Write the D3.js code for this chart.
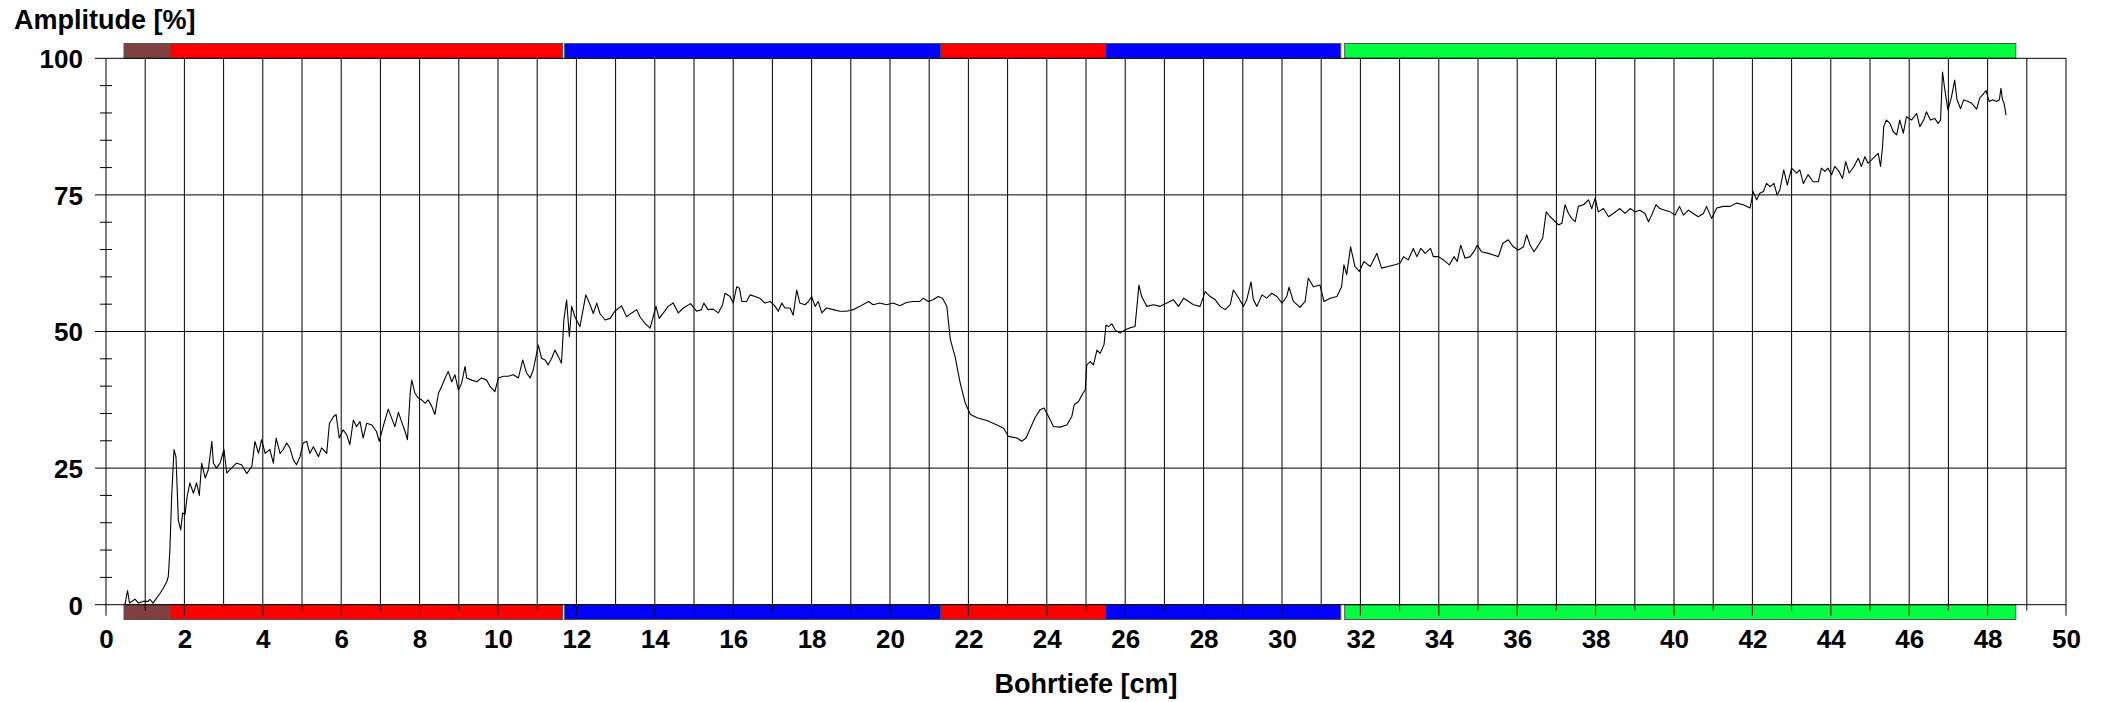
<!DOCTYPE html>
<html>
<head>
<meta charset="utf-8">
<script src="https://cdn.jsdelivr.net/npm/d3@7"></script>
<style>
  html, body { margin: 0; padding: 0; background: #fff; }
  svg { display: block; }
  text { font-family: "Liberation Sans", Arial, Helvetica, sans-serif; font-weight: bold; fill: #000; }
</style>
</head>
<body>
<div id="chart"></div>
<script>
// depth [cm], amplitude [%]
const trace = [
  [0.47,0],[0.49,0.3],[0.55,2.6],[0.6,0.3],[0.66,0.6],[0.74,1.0],[0.83,0.3],[0.95,0.6],[1.08,0.6],[1.12,1.0],
  [1.2,0.3],[1.29,1.2],[1.38,2.1],[1.46,3.0],[1.55,4.2],[1.59,5.2],[1.63,10],[1.675,19.8],[1.735,28.4],[1.786,27],
  [1.845,15.5],[1.905,13.7],[1.956,16.8],[2.015,16.5],[2.07,19.8],[2.14,22.3],[2.23,20.4],[2.31,22.3],[2.38,20],[2.44,25.9],
  [2.53,23.2],[2.61,24.7],[2.7,29.9],[2.74,25.9],[2.82,25],[2.91,25.9],[3.01,28.4],[3.08,24.1],[3.2,25],[3.33,25.9],
  [3.46,25.6],[3.59,24],[3.72,25.3],[3.8,29.9],[3.89,27.7],[3.97,30.2],[4.06,27.7],[4.18,28.4],[4.27,25.9],[4.34,30.5],
  [4.44,27.7],[4.52,28.4],[4.61,29.6],[4.69,28.7],[4.78,26.5],[4.86,25.6],[4.95,27.1],[5.03,29.6],[5.12,29.9],[5.2,27.7],
  [5.29,28.9],[5.42,27.1],[5.5,28.7],[5.63,27.7],[5.7,33.2],[5.8,34.4],[5.87,34.8],[5.95,30.5],[6.05,32],[6.14,31.1],
  [6.22,29.3],[6.31,33.8],[6.39,32.6],[6.48,33.5],[6.56,30.5],[6.65,33.2],[6.78,32.9],[6.9,31.7],[6.97,29.9],[7.07,32.6],
  [7.2,35.8],[7.29,34.1],[7.37,32.6],[7.46,35.2],[7.54,33.5],[7.63,31.7],[7.69,30.2],[7.76,38.7],[7.8,41.1],[7.88,38.7],
  [7.97,37.8],[8.05,37.5],[8.14,36.9],[8.22,37.5],[8.31,36.3],[8.39,34.8],[8.48,38.7],[8.56,39.9],[8.65,41.5],[8.73,42.7],
  [8.82,40.8],[8.9,42.1],[8.99,39.3],[9.07,40.5],[9.16,43.6],[9.2,41.5],[9.33,41.1],[9.46,40.8],[9.58,41.5],[9.71,41.1],
  [9.8,39.9],[9.92,39],[10.01,41.5],[10.14,41.8],[10.26,41.8],[10.39,42.1],[10.52,41.5],[10.63,44.8],[10.73,42.4],[10.82,41.5],
  [10.9,43],[11.03,47.5],[11.11,45.1],[11.2,44.8],[11.28,43.9],[11.37,45.1],[11.45,46.6],[11.54,45.4],[11.62,44.2],[11.68,52.1],
  [11.75,55.8],[11.82,49.1],[11.88,54.6],[11.96,52.7],[12.09,50.9],[12.24,56.7],[12.35,54.9],[12.43,53.3],[12.52,55.2],[12.6,53.3],
  [12.73,52.1],[12.86,52.4],[12.98,53.7],[13.15,54.7],[13.28,52.7],[13.41,53.4],[13.54,54],[13.62,52.7],[13.75,51.5],[13.88,50.6],
  [13.96,52.7],[14.03,54.6],[14.11,52.4],[14.22,53.4],[14.34,54.6],[14.47,55.2],[14.6,53.4],[14.73,54.3],[14.91,55.1],[15.07,53.7],
  [15.19,54],[15.25,55.2],[15.36,54],[15.49,54.1],[15.62,53.4],[15.73,54.9],[15.79,57],[15.92,56.4],[16,55.2],[16.09,58.2],
  [16.16,57.9],[16.22,55.5],[16.34,55.5],[16.43,56.7],[16.56,56.4],[16.68,56.1],[16.81,55.2],[16.94,55.5],[17.07,54.6],[17.15,53.7],
  [17.24,55.2],[17.32,54.3],[17.45,54.3],[17.53,53],[17.62,57.6],[17.7,55.2],[17.83,54.9],[17.92,55.5],[18,56.4],[18.09,54.6],
  [18.17,55.5],[18.26,53.4],[18.38,54.3],[18.55,54],[18.72,53.7],[18.89,53.7],[19.06,54],[19.23,54.6],[19.45,55.5],[19.57,54.9],
  [19.74,55.2],[19.91,54.9],[20.08,55.2],[20.25,54.7],[20.42,55.3],[20.59,55.5],[20.76,55.5],[20.85,56.1],[20.98,55.5],[21.1,55.8],
  [21.23,56.4],[21.34,56.1],[21.45,54.6],[21.54,48.5],[21.66,45.4],[21.79,40.6],[21.92,36.9],[22.05,34.8],[22.22,34.2],[22.47,33.7],
  [22.73,32.9],[22.9,32.3],[23.02,30.8],[23.24,30.5],[23.36,29.9],[23.47,30.5],[23.58,32.3],[23.7,34.2],[23.83,35.7],[23.93,36],
  [24.04,34.5],[24.17,32.6],[24.34,32.5],[24.51,32.9],[24.64,34.5],[24.7,36.6],[24.81,37.2],[24.92,38.7],[24.98,39.3],[25.02,43.9],
  [25.11,44.5],[25.19,43.9],[25.28,46.6],[25.36,46],[25.46,47.6],[25.51,51.2],[25.57,50.9],[25.66,51.4],[25.74,50.3],[25.87,49.7],
  [26,50.3],[26.13,50.7],[26.25,50.9],[26.3,54.6],[26.35,58.5],[26.42,56.4],[26.55,54.6],[26.72,54.9],[26.89,54.6],[27.06,55.2],
  [27.23,55.8],[27.36,54.6],[27.49,56.1],[27.62,55.5],[27.74,54.9],[27.91,54.6],[28.04,57.3],[28.17,56.4],[28.3,55.8],[28.42,54.6],
  [28.55,54],[28.68,54.9],[28.76,57.6],[28.87,56.4],[29.02,54.6],[29.1,55.8],[29.21,59.1],[29.27,55.8],[29.36,54.6],[29.49,56.7],
  [29.61,56.1],[29.74,57],[29.87,56.4],[30,55.2],[30.12,56.4],[30.18,58.1],[30.29,55.5],[30.46,54.4],[30.59,55.5],[30.67,59.8],
  [30.8,58.2],[30.97,58.5],[31.07,55.5],[31.23,56.1],[31.4,56.4],[31.52,58.2],[31.58,62.2],[31.65,60.4],[31.75,65.5],[31.86,61.9],
  [31.97,61],[32.09,62.8],[32.25,61.9],[32.42,64.3],[32.54,61.6],[32.71,61.9],[32.88,62.2],[33.01,62.5],[33.1,63.7],[33.22,63.1],
  [33.35,65.2],[33.44,63.7],[33.54,65.2],[33.65,64.3],[33.79,65.2],[33.86,63.7],[33.99,63.7],[34.12,63.1],[34.27,62.2],[34.39,63.7],
  [34.47,62.8],[34.56,65.8],[34.67,63.4],[34.8,63.7],[34.92,64.9],[34.98,65.8],[35.09,64.6],[35.26,64.3],[35.39,64],[35.52,63.7],
  [35.63,66.1],[35.77,66.8],[35.9,65.5],[36.03,64.9],[36.16,65.5],[36.24,67.7],[36.33,65.8],[36.43,64.6],[36.54,65.8],[36.65,67.1],
  [36.74,71.9],[36.84,71],[36.97,70.1],[37.05,69.5],[37.14,69.8],[37.22,73.2],[37.31,71.6],[37.39,70.7],[37.48,70.1],[37.56,72.9],
  [37.69,73.2],[37.82,74.1],[37.9,72.5],[37.99,74.4],[38.07,71.9],[38.2,72.5],[38.33,71],[38.45,71.6],[38.62,72.5],[38.75,71.6],
  [38.88,72.5],[39.01,71.9],[39.13,72.2],[39.26,71.6],[39.35,70.1],[39.43,71.3],[39.54,73.2],[39.64,72.5],[39.77,72.2],[39.9,71.9],
  [40.03,71.3],[40.14,72.9],[40.24,71.3],[40.37,72.2],[40.49,71.6],[40.62,71],[40.75,71.6],[40.83,72.9],[40.96,70.7],[41.09,72.6],
  [41.26,72.9],[41.43,72.9],[41.6,73.5],[41.77,73.2],[41.94,72.6],[42.02,75.6],[42.11,74.1],[42.19,75.3],[42.28,75.6],[42.36,77.1],
  [42.45,76.5],[42.55,77.1],[42.63,75],[42.7,75.9],[42.8,79.6],[42.89,76.8],[43,79.9],[43.13,79],[43.21,79.6],[43.3,77.1],
  [43.42,78.7],[43.55,77.4],[43.68,77.4],[43.76,79.9],[43.85,79.3],[43.93,79.9],[44.02,78.7],[44.1,80.2],[44.21,79.3],[44.3,78],
  [44.38,81.1],[44.47,79],[44.59,80.2],[44.7,81.7],[44.78,80.2],[44.87,82],[44.95,80.8],[45.04,81.4],[45.12,82],[45.21,82.6],
  [45.27,80.2],[45.32,83.8],[45.35,87.5],[45.42,88.7],[45.51,88.1],[45.59,86.6],[45.68,86],[45.76,88.7],[45.85,86.3],[45.93,89.3],
  [46.06,88.7],[46.19,89.9],[46.27,87.5],[46.37,88.7],[46.44,90.2],[46.54,88.7],[46.65,89],[46.74,88.1],[46.8,88.7],[46.85,97.5],
  [46.91,94.2],[46.99,90.5],[47.08,93],[47.16,96],[47.22,92.4],[47.31,90.8],[47.39,92.4],[47.5,92.1],[47.59,91.8],[47.72,90.7],
  [47.8,92.7],[47.87,93.3],[47.96,94.1],[48.04,92.1],[48.13,92.4],[48.23,92.1],[48.3,92.4],[48.34,94.5],[48.38,92.4],[48.42,91.8],
  [48.47,89.6]
]

// layer bands along the depth axis [cm]
const layerStart = [0.46, 1.63, 11.7, 21.3, 25.5, 31.6]
const layerEnd   = [1.63, 11.65, 21.3, 25.5, 31.5, 48.72]
const layerColor = ["#804040", "#ff0000", "#0000ff", "#ff0000", "#0000ff", "#00ff40"]

const xTicks = d3.range(0, 51, 2)
const yTicks = [0, 25, 50, 75, 100]
const yMinor = d3.range(5, 100, 5).filter(v => v % 25 != 0)

const W = 2104, H = 702
const margin = {left: 106, right: 38, top: 58.3, bottom: 97.3}

const x = d3.scaleLinear().domain([0, 50]).range([margin.left, W - margin.right])
const y = d3.scaleLinear().domain([0, 100]).range([H - margin.bottom, margin.top])

const svg = d3.select("#chart").append("svg")
  .attr("width", W)
  .attr("height", H)

// layer bars, top and bottom
const barH = 14.8
const layers = layerStart.map((s, i) => ({s, e: layerEnd[i], c: layerColor[i]}))
for (const yPos of [y(100) - barH, y(0)]) {
  svg.append("g").selectAll("rect")
    .data(layers)
    .join("rect")
      .attr("x", d => x(d.s))
      .attr("y", yPos)
      .attr("width", d => x(d.e) - x(d.s))
      .attr("height", barH)
      .attr("fill", d => d.c)
      .attr("stroke", "#505050")
      .attr("stroke-width", 1)
}

// grid
const grid = svg.append("g").attr("stroke", "#000").attr("stroke-width", 1)

grid.selectAll(".hline")
  .data(yTicks)
  .join("line")
    .attr("class", "hline")
    .attr("x1", x(0) - 11)
    .attr("x2", x(50))
    .attr("y1", d => y(d))
    .attr("y2", d => y(d))

grid.selectAll(".vline")
  .data(d3.range(0, 51))
  .join("line")
    .attr("class", "vline")
    .attr("x1", d => x(d))
    .attr("x2", d => x(d))
    .attr("y1", y(100))
    .attr("y2", d => y(0) + (d % 2 == 0 ? 11 : 6))

grid.selectAll(".minor")
  .data(yMinor)
  .join("line")
    .attr("class", "minor")
    .attr("x1", x(0) - 6)
    .attr("x2", x(0) + 6)
    .attr("y1", d => y(d))
    .attr("y2", d => y(d))

// trace
svg.append("path")
  .datum(trace)
  .attr("fill", "none")
  .attr("stroke", "#000")
  .attr("stroke-width", 1.1)
  .attr("stroke-linejoin", "round")
  .attr("d", d3.line().x(d => x(d[0])).y(d => y(d[1])))

// axes (labels only)
const xAxis = svg.append("g")
  .attr("transform", `translate(0,${y(0)})`)
  .call(d3.axisBottom(x).tickValues(xTicks).tickSize(0).tickPadding(25))
xAxis.select(".domain").remove()
xAxis.selectAll("text")
  .attr("font-size", 26)
  .attr("font-family", null)

const yAxis = svg.append("g")
  .attr("transform", `translate(${x(0)},0)`)
  .call(d3.axisLeft(y).tickValues(yTicks).tickSize(0).tickPadding(23))
yAxis.select(".domain").remove()
yAxis.selectAll("text")
  .attr("font-size", 26)
  .attr("font-family", null)
  .attr("dy", "0.36em")

svg.append("text")
  .attr("x", 14)
  .attr("y", 29)
  .attr("font-size", 27)
  .text("Amplitude [%]")

svg.append("text")
  .attr("x", x(25))
  .attr("y", 693)
  .attr("text-anchor", "middle")
  .attr("font-size", 27)
  .text("Bohrtiefe [cm]")
</script>
</body>
</html>
